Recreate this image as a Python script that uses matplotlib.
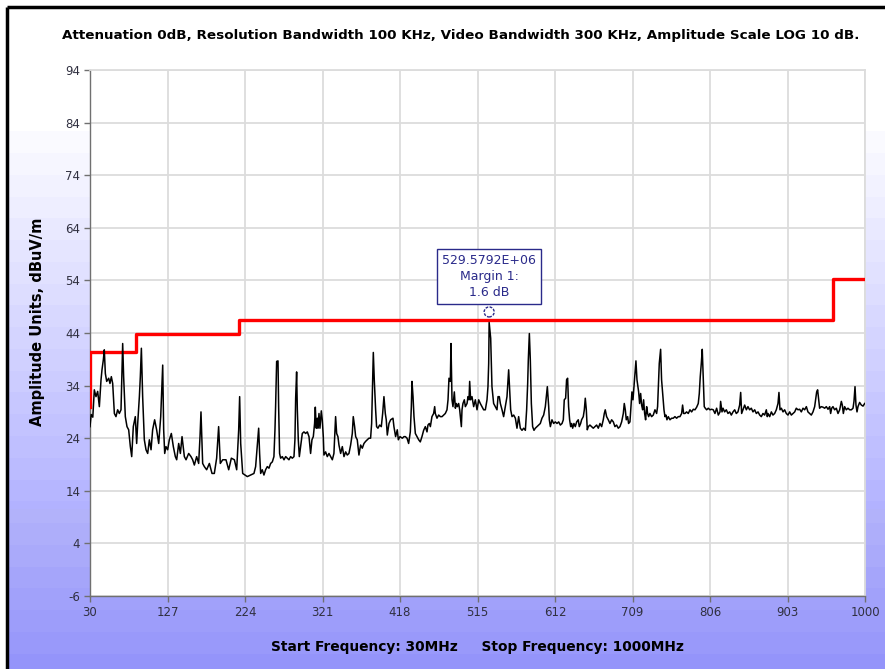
import numpy as np
import matplotlib.pyplot as plt
from matplotlib.patches import Ellipse, Rectangle
from matplotlib.lines import Line2D

plt.rcParams["axes.unicode_minus"] = False

TITLE = "Attenuation 0dB, Resolution Bandwidth 100 KHz, Video Bandwidth 300 KHz, Amplitude Scale LOG 10 dB."
Y_LABEL = "Amplitude Units, dBuV/m"
X_LABEL = "Start Frequency: 30MHz     Stop Frequency: 1000MHz"

X_TICKS = [30, 127, 224, 321, 418, 515, 612, 709, 806, 903, 1000]
Y_TICKS = [-6, 4, 14, 24, 34, 44, 54, 64, 74, 84, 94]

# limit line (dBuV/m), step shape
LIMIT_FREQ = [30, 30, 88, 88, 216, 216, 960, 960, 1000]
LIMIT_LEVEL = [30.0, 40.4, 40.4, 43.9, 43.9, 46.4, 46.4, 54.2, 54.2]

TRACE_FREQ = [
    30.0, 31.5, 33.5, 35.4, 37.5, 39.6, 41.7, 43.8, 45.0, 46.7, 47.9, 49.2, 50.9, 53.4, 55.0, 56.7,
    58.4, 60.5, 62.5, 64.6, 66.7, 68.8, 70.9, 72.1, 74.2, 76.3, 78.4, 80.5, 82.2, 84.2, 86.7, 88.4,
    89.7, 91.8, 93.0, 94.3, 95.9, 98.0, 100.1, 102.2, 104.3, 106.4, 108.4, 110.9, 113.4, 116.0, 118.5, 121.0,
    122.2, 123.5, 125.1, 127.2, 129.3, 131.8, 134.3, 136.8, 138.5, 141.0, 143.1, 145.2, 148.1, 150.2, 153.5, 156.4,
    158.5, 160.6, 163.5, 166.0, 167.7, 168.9, 171.0, 173.1, 176.0, 179.4, 182.7, 185.6, 188.5, 191.0, 193.1, 196.1,
    200.2, 203.6, 206.9, 210.7, 213.6, 216.1, 217.3, 218.6, 221.1,
    226.9, 231.0, 235.2, 237.3, 238.6, 240.2, 241.1, 242.3, 243.6, 245.6, 247.7, 249.8, 251.9, 254.0, 256.1, 258.2,
    260.2, 261.5, 262.3, 263.6, 265.3, 266.1, 267.3, 268.6, 270.7, 272.8, 274.9, 276.9, 279.0, 281.1, 283.2, 285.3,
    286.5, 287.4, 288.6, 289.5, 290.7, 292.0, 293.6, 295.7, 297.8, 299.9, 302.0, 304.1, 305.3, 306.1, 307.8, 309.5,
    311.1, 312.0, 313.2, 314.5, 315.3, 316.6, 317.8, 319.5, 320.7, 322.0, 322.8, 324.9, 327.0, 329.1, 331.2, 333.3,
    335.3, 336.2, 337.4, 338.7, 340.3, 341.6, 343.7, 345.8, 347.9, 350.0, 352.0, 354.1, 356.2, 358.3, 359.5, 361.2,
    362.5, 364.5, 366.6, 368.7, 370.8, 372.9, 375.0, 377.1, 379.1, 381.2, 382.5, 383.3, 384.6, 385.8, 387.5, 388.7,
    390.4, 392.5, 394.6, 396.3, 397.9, 399.6, 400.8, 402.1, 404.2, 406.3, 409.2, 410.4, 412.5, 414.6, 415.9, 418.0,
    420.9, 423.0,
    424.7, 426.8, 428.8, 430.9, 432.2, 433.0, 434.3, 435.5, 437.2, 439.3, 441.4, 443.4, 445.5, 447.6, 449.7, 451.8,
    453.0, 454.7, 456.0, 458.0, 460.1, 461.4, 462.2, 464.3, 466.4, 468.5, 470.6, 472.7, 474.7, 476.8, 478.1, 479.3,
    481.0, 481.8, 483.1, 484.3, 486.0, 487.3, 488.5, 489.8, 491.4, 492.7, 493.9, 494.8, 495.6, 496.8, 498.5, 499.8,
    501.9, 503.1, 504.4, 505.2, 506.4, 508.1, 510.2, 512.3, 514.4, 516.5, 518.5, 520.6, 522.7, 524.8, 526.9, 528.1,
    529.0, 529.58, 531.5, 532.3, 533.1, 535.2, 537.3, 539.4, 540.7, 542.3, 543.6, 545.7, 547.7, 549.8, 551.9, 553.2,
    554.0, 555.3, 556.5, 558.2, 560.3, 562.4, 564.4, 566.5, 568.6, 570.7, 572.8, 574.9, 576.5, 577.8, 578.6, 579.9,
    581.1, 582.4, 584.0, 585.7, 587.4, 589.5, 591.6, 593.6, 595.7, 597.8, 599.9, 601.1, 602.4, 604.1, 604.9, 606.2,
    608.2, 610.3, 612.4, 614.5, 616.6, 618.7, 620.8,
    622.4, 623.6, 625.3, 626.5, 627.8, 629.0, 630.3, 631.6, 632.8, 634.1, 635.7, 637.4, 639.1, 641.1, 642.4, 644.1,
    645.3, 647.4, 648.7, 649.9, 651.2, 652.4, 653.7, 655.7, 657.8, 659.9, 662.0, 664.1, 666.2, 668.3, 670.4, 672.4,
    673.7, 674.9, 676.6, 678.7, 680.8, 682.9, 685.0, 687.0, 689.1, 691.2, 693.3, 695.4, 697.5, 698.7, 700.0, 701.2,
    702.9, 704.1, 705.8, 707.1, 708.3, 709.6, 710.8, 712.1, 713.3, 714.6, 715.8, 716.7, 717.9, 719.2, 720.4, 721.7,
    722.9, 724.2, 725.4, 726.7, 727.9, 729.2, 730.8, 732.9, 735.0, 737.1, 739.2, 740.4, 741.7, 742.5, 744.2, 745.4,
    747.1, 748.4, 749.6, 750.9, 752.1, 753.8, 755.9, 758.0, 760.0, 762.1, 764.2, 766.3, 768.4, 770.5, 771.7, 773.0,
    774.7, 776.7, 778.8, 780.9, 783.0, 785.1, 787.2, 789.3, 791.3, 792.6, 793.8, 795.1, 796.3, 797.6, 798.8, 800.1,
    801.8, 803.9, 805.9, 808.0, 810.1, 812.2, 814.3, 816.4, 818.5,
    819.3, 821.0, 822.3, 824.3, 826.4, 828.5, 830.6, 832.7, 834.8, 836.9, 838.9, 841.0, 843.1, 844.4, 845.6, 847.3,
    849.4, 851.5, 853.5, 855.6, 857.7, 859.8, 861.9, 864.0, 866.1, 868.2, 870.2, 872.3, 874.4, 876.5, 877.7, 878.6,
    880.7, 882.8, 884.8, 886.9, 889.0, 891.1, 892.3, 893.6, 895.3, 897.4, 899.4, 901.5, 903.6, 905.7, 907.8, 909.9,
    912.0, 914.0, 916.1, 918.2, 920.3, 922.4, 924.5, 926.6, 928.6, 930.7, 932.8, 934.9, 937.0, 938.2, 939.5, 940.7,
    942.0, 943.2, 945.3, 947.4, 949.5, 951.6, 953.7, 955.8, 957.0, 958.3, 959.9, 962.0, 964.1, 966.2, 968.3, 970.4,
    971.6, 972.9, 974.5, 976.6, 978.7, 980.8, 982.9, 985.0, 986.2, 987.5, 988.7, 990.0, 991.2, 993.3, 995.4, 997.5,
    999.6,
]
TRACE_LEVEL = [
    26.2, 28.5, 28.0, 33.2, 31.9, 32.9, 30.0, 35.1, 37.0, 38.9, 40.8, 36.3, 34.8, 35.4, 34.4, 35.7,
    34.4, 28.7, 28.1, 29.4, 28.7, 29.4, 42.0, 35.7, 28.1, 26.2, 25.6, 22.4, 20.5, 26.2, 28.1, 23.0,
    26.8, 31.9, 35.7, 41.1, 31.9, 23.7, 21.8, 21.1, 23.7, 21.8, 25.6, 27.5, 25.6, 23.0, 28.1, 37.9,
    25.6, 21.1, 22.4, 21.8, 23.7, 24.9, 22.4, 20.5, 19.9, 23.0, 21.1, 24.3, 20.5, 19.9, 21.1, 20.5,
    19.9, 18.9, 20.5, 19.2, 24.3, 29.0, 19.2, 18.6, 18.0, 19.2, 17.3, 17.3, 20.2, 26.2, 19.2, 19.9,
    19.9, 18.0, 20.2, 19.9, 18.0, 25.6, 31.9, 23.0, 17.3,
    16.7, 17.0, 17.3, 18.6, 21.1, 24.3, 25.9, 21.1, 17.3, 18.0, 17.0, 18.0, 18.6, 18.3, 19.2, 19.5,
    20.5, 25.6, 30.0, 38.6, 38.7, 30.0, 21.1, 20.2, 20.5, 19.9, 20.5, 20.2, 19.9, 20.5, 20.2, 20.5,
    23.7, 31.6, 36.6, 29.4, 23.7, 20.5, 22.4, 24.9, 25.2, 24.9, 25.2, 24.3, 22.4, 21.1, 23.7, 24.3,
    26.8, 29.9, 25.9, 27.8, 25.9, 28.7, 25.9, 29.2, 27.5, 24.3, 20.8, 21.4, 20.5, 21.1, 20.5, 19.9,
    21.1, 24.3, 28.1, 24.9, 24.3, 22.7, 21.1, 22.4, 20.5, 21.4, 20.8, 21.1, 22.7, 24.9, 28.1, 26.2,
    24.3, 23.7, 20.8, 22.7, 22.1, 23.0, 23.4, 23.7, 24.0, 24.0, 26.8, 32.2, 40.3, 35.1, 29.4, 26.2,
    25.9, 26.5, 26.2, 28.7, 31.9, 28.7, 27.5, 24.6, 26.8, 27.5, 27.8, 26.2, 24.3, 25.6, 23.7, 24.3,
    24.0, 24.3,
    24.3, 24.0, 23.0, 25.2, 30.0, 34.8, 31.9, 28.1, 24.9, 24.3, 23.7, 23.3, 24.3, 25.5, 26.2, 25.2,
    26.5, 26.8, 26.2, 28.1, 28.7, 30.0, 28.7, 27.8, 28.4, 28.1, 28.1, 28.4, 28.7, 29.4, 31.3, 35.4,
    34.8, 42.0, 31.3, 30.0, 32.8, 29.7, 30.6, 30.0, 30.6, 29.4, 27.5, 26.2, 29.4, 30.6, 31.3, 30.0,
    30.6, 31.9, 31.3, 34.8, 31.3, 31.9, 30.0, 31.3, 29.4, 31.3, 30.6, 30.0, 29.4, 29.4, 31.3, 33.8,
    38.2, 46.0, 43.0, 38.2, 33.8, 30.6, 30.0, 29.4, 31.9, 31.9, 30.6, 29.4, 28.1, 30.0, 31.9, 35.1,
    37.0, 33.2, 29.4, 28.1, 28.4, 27.8, 25.9, 28.1, 25.9, 25.5, 25.9, 25.5, 29.4, 34.4, 38.9, 43.9,
    38.9, 30.6, 26.2, 25.5, 25.9, 26.2, 26.5, 26.8, 27.8, 28.4, 30.0, 31.9, 33.8, 30.0, 27.5, 26.2,
    27.5, 26.8, 27.1, 26.8, 27.1, 26.5, 26.8,
    27.5, 31.3, 31.6, 35.1, 35.4, 30.0, 27.5, 26.2, 26.8, 25.9, 26.8, 26.2, 27.1, 27.5, 26.2, 26.8,
    27.5, 28.1, 29.4, 31.6, 29.4, 25.6, 26.2, 26.5, 26.2, 25.9, 26.2, 26.5, 25.9, 26.8, 26.2, 27.5,
    28.7, 29.4, 28.1, 27.5, 26.8, 27.5, 27.1, 26.2, 26.5, 25.9, 26.2, 27.1, 28.7, 30.6, 29.4, 27.5,
    28.1, 26.8, 27.1, 30.0, 32.8, 31.3, 33.8, 36.3, 38.7, 35.1, 33.8, 32.8, 30.6, 32.5, 30.3, 29.4,
    31.3, 28.7, 27.5, 30.0, 28.7, 28.1, 28.7, 28.1, 28.4, 29.4, 28.7, 30.0, 35.1, 38.2, 40.9, 35.1,
    31.9, 29.4, 28.1, 28.4, 27.5, 28.1, 27.5, 27.8, 27.8, 28.1, 27.8, 28.1, 28.1, 28.7, 30.3, 28.7,
    28.7, 29.0, 28.7, 29.4, 29.0, 29.5, 29.4, 29.9, 30.6, 32.5, 35.7, 38.2, 40.9, 35.4, 30.0, 29.7,
    29.4, 29.7, 29.4, 29.5, 29.4, 28.7, 29.7, 28.4, 29.0,
    31.0, 29.0, 29.7, 29.0, 29.4, 28.7, 29.0, 28.4, 29.0, 29.4, 28.7, 29.0, 30.3, 32.7, 28.7, 29.4,
    30.3, 29.4, 30.0, 29.4, 29.7, 29.0, 29.4, 28.7, 29.0, 28.4, 28.1, 28.7, 28.4, 29.4, 28.1, 28.7,
    28.1, 29.0, 28.4, 28.7, 29.4, 30.6, 32.7, 29.4, 29.7, 29.0, 29.4, 28.7, 28.4, 29.0, 28.4, 28.7,
    29.0, 29.7, 29.4, 29.5, 29.0, 29.7, 29.4, 30.0, 29.0, 28.7, 28.4, 29.0, 30.0, 31.3, 32.8, 33.2,
    31.3, 29.7, 30.0, 29.9, 29.7, 30.0, 29.5, 30.0, 28.7, 29.7, 30.0, 29.4, 29.7, 28.7, 29.4, 31.0,
    30.3, 28.7, 30.0, 29.4, 29.7, 29.4, 29.4, 29.7, 31.0, 33.8, 30.3, 29.0, 30.0, 30.8, 30.3, 30.1,
    30.6,
]

# peak marker
MARKER_FREQ = 529.5792
MARKER_LEVEL = 48.0
MARKER_TEXT = "529.5792E+06\nMargin 1:\n1.6 dB"
MARKER_BOX_LEVEL = 54.8

W, H = 885, 669
fig = plt.figure(figsize=(W / 100, H / 100), dpi=100)

# background gradient (white at top, lavender blue at bottom)
bg = fig.add_axes([0, 0, 1, 1], zorder=-10)
rows = np.linspace(0, 1, H)
frac = np.clip((rows * H - 120) / (H - 120), 0, 1)
top = np.array([1.0, 1.0, 1.0])
bottom = np.array([148, 148, 252]) / 255
grad = top[None, :] * (1 - frac[:, None]) + bottom[None, :] * frac[:, None]
# banded look like the original
grad = np.round(grad * 60) / 60
bg.imshow(grad[:, None, :], aspect="auto", extent=[0, 1, 0, 1], origin="upper")
bg.set_xlim(0, 1)
bg.set_ylim(0, 1)
bg.axis("off")
bg.add_patch(Rectangle((0, 0), 7 / W, 1, color="white", zorder=2))

# outer frame, left and top edges only
fig.add_artist(Line2D([7 / W, 7 / W], [0, 1 - 7 / H], color="black", lw=2.5, solid_capstyle="butt"))
fig.add_artist(Line2D([7 / W, 1.01], [1 - 7 / H, 1 - 7 / H], color="black", lw=2.5, solid_capstyle="butt"))

ax = fig.add_axes([90 / W, 1 - 596 / H, (865 - 90) / W, (596 - 70) / H])
ax.set_facecolor("white")
ax.set_xlim(30, 1000)
ax.set_ylim(-6, 94)
ax.set_xticks(X_TICKS)
ax.set_yticks(Y_TICKS)
ax.grid(True, color="#dcdcdc", lw=1.3)
ax.set_axisbelow(True)
for side in ["top", "right"]:
    ax.spines[side].set_color("#dcdcdc")
    ax.spines[side].set_linewidth(1.3)
for side in ["left", "bottom"]:
    ax.spines[side].set_color("#707070")
    ax.spines[side].set_linewidth(1.0)
ax.tick_params(length=4, width=1, color="#707070", labelsize=8.5, labelcolor="#303040", pad=3)

ax.plot(LIMIT_FREQ, LIMIT_LEVEL, color="#ff0000", lw=2.4, zorder=3)
ax.plot(TRACE_FREQ, TRACE_LEVEL, color="black", lw=1.1, zorder=4)

# marker circle and label box
ax.add_patch(Ellipse((MARKER_FREQ, MARKER_LEVEL), 12.5, 1.9, fill=False,
                     edgecolor="#2a2a8a", lw=1.0, ls=(0, (2, 1)), zorder=5))
ax.text(MARKER_FREQ, MARKER_BOX_LEVEL, MARKER_TEXT, ha="center", va="center",
        fontsize=9, color="#2a2a8a", linespacing=1.3, zorder=6,
        bbox=dict(boxstyle="square,pad=0.4", facecolor="white", edgecolor="#2a2a8a", lw=1.0))

fig.text(461 / W, 1 - 35 / H, TITLE, ha="center", va="center", fontsize=9.7, fontweight="bold")
fig.text(38 / W, 1 - 322 / H, Y_LABEL, ha="center", va="center", rotation=90,
         fontsize=10.5, fontweight="bold")
fig.text(477 / W, 1 - 647 / H, X_LABEL, ha="center", va="center", fontsize=9.9, fontweight="bold")

fig.savefig("out.png", dpi=100)
